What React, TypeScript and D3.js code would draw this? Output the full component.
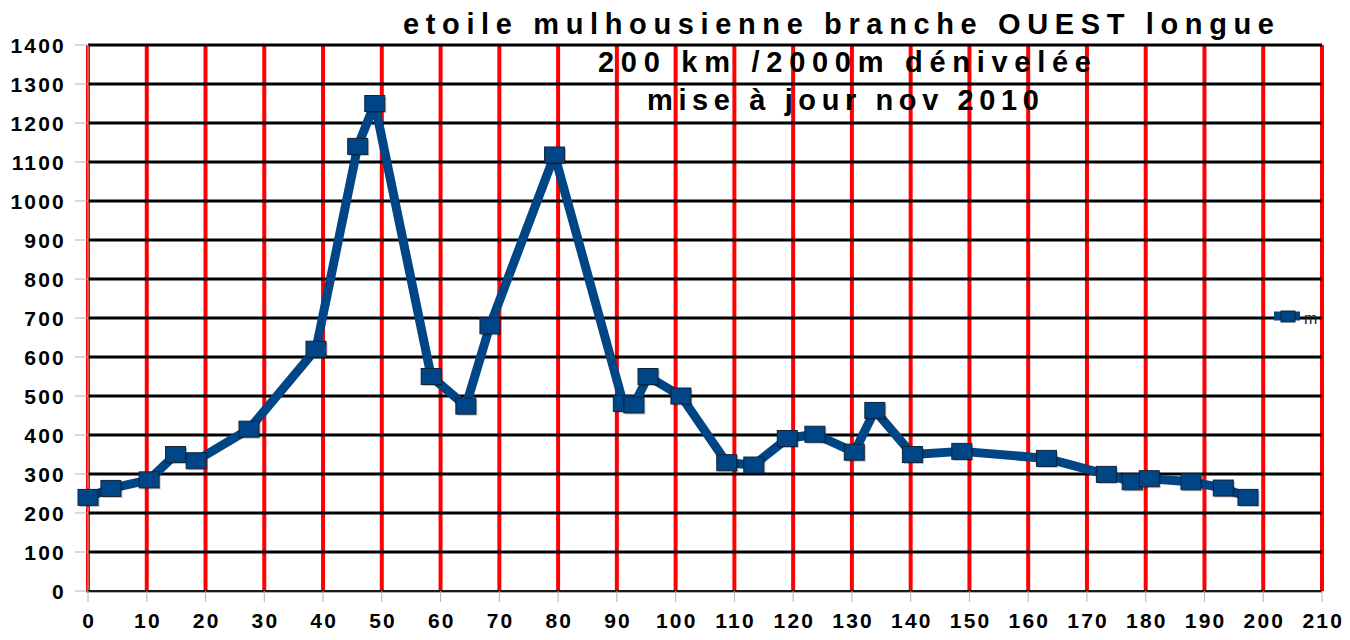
import React from "react";
import * as d3 from "d3";

const titleLines = [
  "etoile mulhousienne branche OUEST longue",
  "200 km /2000m dénivelée",
  "mise à jour nov 2010",
];
const seriesName = "m";
const km = [0, 3.9, 10.4, 14.9, 18.4, 27.4, 38.8, 45.9, 48.8, 58.4, 64.3, 68.4, 79.4, 91.1, 92.9, 95.3, 100.9, 108.7, 113.3, 119.0, 123.7, 130.4, 133.9, 140.3, 148.7, 163.1, 173.3, 177.7, 180.6, 187.7, 193.2, 197.4];
const altitude = [240, 263, 285, 350, 334, 415, 620, 1140, 1250, 550, 474, 680, 1118, 481, 477, 550, 500, 329, 323, 391, 402, 356, 463, 350, 358, 340, 299, 280, 288, 280, 264, 240];
const xTicks = d3.range(0, 211, 10);
const yTicks = d3.range(0, 1401, 100);

const W = 1350;
const H = 640;
const left = 88;
const right = 1322;
const top = 45;
const bottom = 591;

const titleSpecs = [
  { x: 403, y: 34, w: 871 },
  { x: 598, y: 72, w: 493 },
  { x: 647, y: 110, w: 392 },
];

export default function App() {
  const x = d3.scaleLinear().domain([0, 210]).range([left, right]);
  const y = d3.scaleLinear().domain([0, 1400]).range([bottom, top]);
  const pts = km.map((k, i) => [k, altitude[i]] as [number, number]);
  const line = d3.line<[number, number]>().x((d) => x(d[0])).y((d) => y(d[1]));
  const font = "'Liberation Sans', Arial, sans-serif";
  const blue = "#004586";
  const mw = 20;
  const mh = 16;

  return (
    <svg
      width={W}
      height={H}
      style={{ position: "absolute", left: 0, top: 0, background: "#fff" }}
      fontFamily={font}
    >
      <rect x={0} y={0} width={W} height={H} fill="#fff" />
      {/* vertical red grid */}
      {xTicks.map((t) => (
        <line key={"vx" + t} x1={x(t)} x2={x(t)} y1={top} y2={bottom} stroke="#ff0000" strokeWidth={4} />
      ))}
      {/* horizontal black grid */}
      {yTicks.filter((t) => t > 0).map((t) => (
        <line key={"hy" + t} x1={left} x2={right} y1={y(t)} y2={y(t)} stroke="#000" strokeWidth={3} />
      ))}
      {/* axes */}
      <line x1={left} x2={left} y1={top} y2={bottom} stroke="#b3b3b3" strokeWidth={1} />
      <line x1={left - 2} x2={right} y1={bottom} y2={bottom} stroke="#1a1a1a" strokeWidth={2} />
      <line x1={left - 2} x2={right} y1={bottom + 1.5} y2={bottom + 1.5} stroke="#b3b3b3" strokeWidth={1} />
      {yTicks.map((t) => (
        <line key={"yt" + t} x1={left - 13} x2={left} y1={y(t)} y2={y(t)} stroke="#b3b3b3" strokeWidth={1} />
      ))}
      {xTicks.map((t) => (
        <line key={"xt" + t} x1={x(t)} x2={x(t)} y1={bottom} y2={bottom + 11} stroke="#b3b3b3" strokeWidth={1} />
      ))}
      {/* tick labels */}
      {yTicks.map((t) => (
        <text
          key={"yl" + t}
          x={66}
          y={y(t) + 8}
          textAnchor="end"
          fontSize={21}
          fontWeight="bold"
          letterSpacing={2.2}
          fill="#000"
        >
          {t}
        </text>
      ))}
      {xTicks.map((t) => (
        <text
          key={"xl" + t}
          x={x(t) + 1.2}
          y={628}
          textAnchor="middle"
          fontSize={21}
          fontWeight="bold"
          letterSpacing={2.2}
          fill="#000"
        >
          {t}
        </text>
      ))}
      {/* series line */}
      <path d={line(pts) || ""} fill="none" stroke={blue} strokeWidth={9} strokeLinejoin="round" />
      {pts.map((d, i) => (
        <g key={"m" + i}>
          <rect x={x(d[0]) - mw / 2 + 1.5} y={y(d[1]) - mh / 2 + 1.5} width={mw} height={mh} fill="#000" opacity={0.25} />
          <rect x={x(d[0]) - mw / 2} y={y(d[1]) - mh / 2} width={mw} height={mh} fill={blue} stroke="#10243a" strokeWidth={1} />
        </g>
      ))}
      {/* legend */}
      <line x1={1274} x2={1300} y1={316} y2={316} stroke={blue} strokeWidth={9} />
      <rect x={1281} y={311} width={14} height={11} fill={blue} stroke="#10243a" strokeWidth={1} />
      <text x={1304} y={324} fontSize={16} fill="#222">{seriesName}</text>
      {/* title */}
      {titleLines.map((s, i) => (
        <text
          key={"t" + i}
          x={titleSpecs[i].x}
          y={titleSpecs[i].y}
          fontSize={29}
          fontWeight="bold"
          textLength={titleSpecs[i].w}
          lengthAdjust="spacing"
          fill="#000"
        >
          {s}
        </text>
      ))}
    </svg>
  );
}
